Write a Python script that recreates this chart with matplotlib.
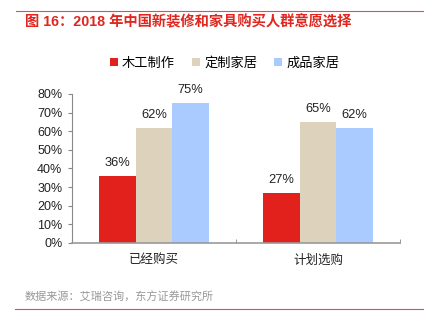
import matplotlib
matplotlib.use("Agg")
import matplotlib.pyplot as plt
import numpy as np

plt.rcParams['font.family'] = ['Liberation Sans', 'Noto Sans CJK SC', 'DejaVu Sans']

categories = ["已经购买", "计划选购"]
series_names = ["木工制作", "定制家居", "成品家居"]
woodwork = [36, 27]
custom = [62, 65]
finished = [75, 62]
colors = ["#E2211C", "#DDD3BD", "#A9CBFF"]

fig = plt.figure(figsize=(4.24, 3.29), dpi=100)
ax = fig.add_axes([0.1698, 0.2614, 0.7736, 0.4529])

x = np.arange(len(categories))
w = 0.222
handles = []
for i, (vals, name, c) in enumerate(zip([woodwork, custom, finished], series_names, colors)):
    bars = ax.bar(x + (i - 1) * w, vals, width=w, color=c, label=name)
    handles.append(bars)
    for xi, v in zip(x + (i - 1) * w, vals):
        ax.annotate(f"{v}%", (xi, v), xytext=(0, 5), textcoords="offset points",
                    ha="center", va="bottom", fontsize=9.3, color="#222222")

ax.set_xlim(-0.5, 1.5)
ax.set_ylim(0, 80)
ax.set_yticks(range(0, 81, 10))
ax.set_yticklabels([f"{v}%" for v in range(0, 81, 10)], fontsize=9, color="#222222")
ax.set_xticks(x)
ax.set_xticklabels(categories, fontsize=9, color="#222222")
ax.tick_params(axis="x", length=0, pad=8)
ax.set_xticks([0.5, 1.5], minor=True)
ax.tick_params(axis="x", which="minor", direction="in", length=3, color="#888888")
ax.tick_params(axis="y", direction="out", length=3, color="#888888", pad=4)

for s in ["top", "right"]:
    ax.spines[s].set_visible(False)
ax.spines["left"].set_color("#888888")
ax.spines["left"].set_linewidth(0.8)
ax.spines["bottom"].set_color("#999999")
ax.spines["bottom"].set_linewidth(1.2)

fig.legend(handles=handles, labels=series_names, loc="center", bbox_to_anchor=(0.53, 0.808),
           ncol=3, frameon=False, fontsize=9.5, handlelength=0.6, handleheight=0.6,
           handletextpad=0.3, columnspacing=1.3)

# header / footer
fig.text(25 / 424, 1 - 22.5 / 329, "图 16：2018 年中国新装修和家具购买人群意愿选择",
         fontsize=10.3, color="#E0261F", fontweight="bold", va="center", ha="left")
fig.add_artist(plt.Line2D([16 / 424, 1], [1 - 11 / 329, 1 - 11 / 329], color="#E0504A", lw=0.8))
fig.text(25 / 424, 1 - 297 / 329, "数据来源：艾瑞咨询，东方证券研究所",
         fontsize=8, color="#999999", va="center", ha="left")
fig.add_artist(plt.Line2D([15 / 424, 1], [1 - 309 / 329, 1 - 309 / 329], color="#E0504A", lw=0.8))

fig.savefig("out.png", dpi=100)
